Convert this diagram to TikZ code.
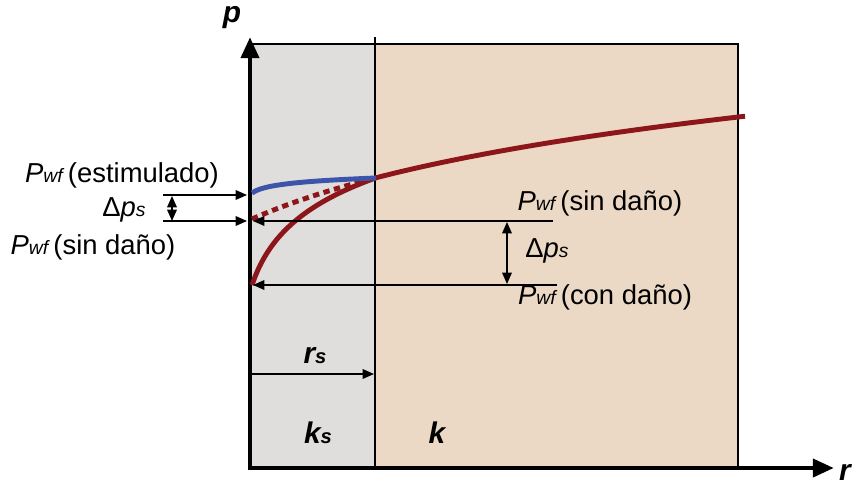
\documentclass[tikz,border=0pt]{standalone}
\usepackage{fontspec}
\setmainfont{Liberation Sans}
\usetikzlibrary{arrows.meta,positioning}
\definecolor{skinc}{RGB}{223,222,220}
\definecolor{rockc}{RGB}{236,217,197}
\definecolor{damc}{RGB}{140,22,26}
\definecolor{stimc}{RGB}{60,84,170}
\newcommand{\Pwf}{\textit{P}{\fontsize{11}{12}\selectfont\textit{wf}}\kern2pt}
\newcommand{\Dps}{Δ\textit{p}{\fontsize{11}{12}\selectfont\textit{s}}}
\newcommand{\bsub}[2]{\textbf{\textit{#1}}{\fontsize{11.5}{12}\selectfont\textbf{\textit{#2}}}}
\tikzset{
  axis/.style={line width=2.8pt,-{Triangle[length=12pt,width=10pt]}},
  edge/.style={line width=0.7pt,black},
  dim/.style={line width=0.8pt,-{Triangle[length=6.5pt,width=5.5pt]}},
  ddim/.style={line width=0.8pt,{Triangle[length=6.5pt,width=5.5pt]}-{Triangle[length=6.5pt,width=5.5pt]}},
  prof/.style={line width=2.8pt,damc},
  stim/.style={line width=2.8pt,stimc},
  lbl/.style={inner sep=0pt,font=\fontsize{15.6}{17}\selectfont},
  sym/.style={inner sep=0pt,font=\fontsize{17}{18}\selectfont\bfseries\itshape},
}

\begin{document}
\begin{tikzpicture}[x=0.2mm,y=-0.2mm]
  \useasboundingbox (0,0) rectangle (861,488);
  % zones
  \fill[skinc] (250,44) rectangle (375,468);
  \fill[rockc] (375,44) rectangle (738,468);
  \draw[edge] (250,44) -- (738,44) -- (738,468);
  \draw[edge] (375,37) -- (375,468);
  % axes
  \coordinate (O) at (250,468);
  \coordinate (ptop) at (250,37);
  \coordinate (rend) at (834,468);
  \draw[axis] ([yshift=-1.4pt]O) -- (ptop);
  \draw[axis] ([xshift=-1.4pt]O) -- (rend);
  \node[sym] (plbl) at (232,18) {p};
  \node[sym] (rlbl) at (845,472) {r};
  % profiles
  \draw[prof,dash pattern=on 3.6pt off 2.6pt] plot[domain=252:373,samples=30] (\x,{610.2-76*ln(\x-80)});
  \draw[prof] plot[domain=375:745,samples=40] (\x,{610.2-76*ln(\x-80)});
  \draw[prof] plot[domain=252:376,samples=40] (\x,{428.7-50.7*ln(\x-235)});
  \draw[stim] plot[domain=252:376,samples=30] (\x,{203-5.13*ln(\x-245)});
  % left annotations
  \coordinate (e0) at (163,195); \coordinate (e1) at (247,195);
  \coordinate (n0) at (163,221); \coordinate (n1) at (247,221);
  \draw[dim] (e0) -- (e1);
  \draw[dim] (n0) -- (n1);
  \coordinate (d0) at (172,196); \coordinate (d1) at (172,221);
  \draw[ddim] (d0) -- (d1);
  \node[lbl] (estim) at (122,175) {\Pwf(estimulado)};
  \node[lbl] (dpl) at (124,210) {\Dps};
  \node[lbl] (sinl) at (93,247) {\Pwf(sin daño)};
  % right annotations
  \coordinate (m0) at (553,221); \coordinate (m1) at (253,221);
  \coordinate (c0) at (557,285); \coordinate (c1) at (253,285);
  \draw[dim] (m0) -- (m1);
  \draw[dim] (c0) -- (c1);
  \coordinate (g0) at (507,222); \coordinate (g1) at (507,284);
  \draw[ddim] (g0) -- (g1);
  \node[lbl] (sinr) at (600,203) {\Pwf(sin daño)};
  \node[lbl] (dpr) at (547,251) {\Dps};
  \node[lbl] (conr) at (605,297) {\Pwf(con daño)};
  % skin radius and permeabilities
  \coordinate (s0) at (252,374); \coordinate (s1) at (374,374);
  \draw[dim] (s0) -- (s1);
  \node[sym] (rs) at (315,356) {\bsub{r}{s}};
  \node[sym] (ks) at (318,433) {\bsub{k}{s}};
  \node[sym] (kk) at (437,433) {k};
\end{tikzpicture}
\end{document}
